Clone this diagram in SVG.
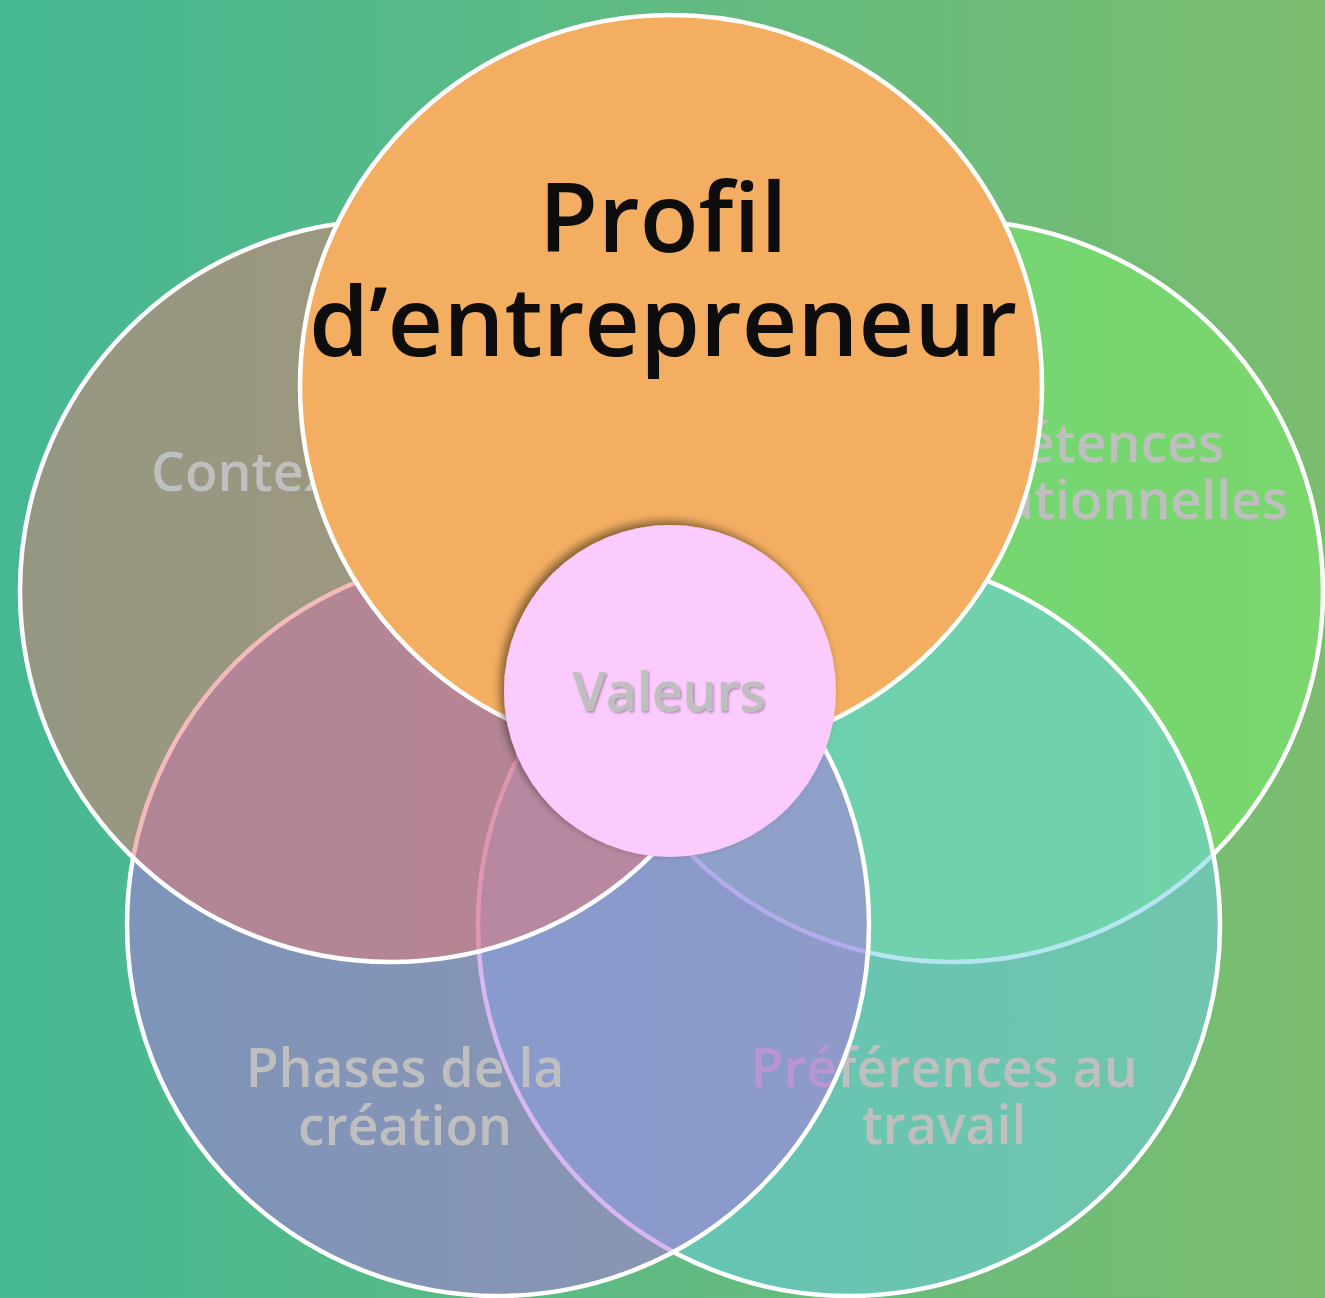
<svg xmlns="http://www.w3.org/2000/svg" width="1325" height="1298" viewBox="0 0 1325 1298">
  <defs>
    <linearGradient id="bg" x1="0" y1="0" x2="1" y2="0">
      <stop offset="0" stop-color="#45b894"/>
      <stop offset="1" stop-color="#7bbd6f"/>
    </linearGradient>
    <filter id="shadow" x="-20%" y="-20%" width="140%" height="140%">
      <feDropShadow dx="-4" dy="-4" stdDeviation="4" flood-color="#000" flood-opacity="0.45"/>
    </filter>
    <filter id="tshadow" x="-10%" y="-20%" width="120%" height="150%">
      <feDropShadow dx="1.5" dy="1.5" stdDeviation="1" flood-color="#000" flood-opacity="0.35"/>
    </filter>
    <style>
      .c { stroke: #ffffff; stroke-width: 4.5; }
      .lbl { font-family: "Open Sans", "Noto Sans", "Liberation Sans", sans-serif; font-weight: 600; font-size: 53.5px; fill: #bfbfbf; font-variant-ligatures: none; }
      .title { font-family: "Open Sans", "Noto Sans", "Liberation Sans", sans-serif; font-weight: 600; font-size: 96.5px; fill: #0d0d0d; font-variant-ligatures: none; }
    </style>
  </defs>
  <rect x="0" y="0" width="1325" height="1298" fill="url(#bg)"/>

  <g id="node-competences">
    <circle class="c" cx="952" cy="591" r="371" fill="rgb(124,240,108)" fill-opacity="0.5"/>
    <text class="lbl" x="1224" y="462" text-anchor="end">Compétences</text>
    <text class="lbl" x="1288" y="519" text-anchor="end">relationnelles</text>
  </g>

  <g id="node-preferences">
    <circle class="c" cx="849" cy="925" r="371" fill="rgb(106,205,229)" fill-opacity="0.5"/>
    <text class="lbl" x="944" y="1087" text-anchor="middle">Préférences au</text>
    <text class="lbl" x="944" y="1144" text-anchor="middle">travail</text>
  </g>

  <g id="node-phases">
    <circle class="c" cx="498" cy="925" r="371" fill="rgb(177,111,227)" fill-opacity="0.5"/>
    <text class="lbl" x="405" y="1087" text-anchor="middle">Phases de la</text>
    <text class="lbl" x="405" y="1145" text-anchor="middle">création</text>
  </g>

  <g id="node-contexte">
    <circle class="c" cx="391" cy="591" r="371" fill="rgb(229,117,116)" fill-opacity="0.5"/>
    <text class="lbl" x="151" y="491">Contexte</text>
  </g>

  <g id="node-profil">
    <circle class="c" cx="671" cy="386" r="371" fill="#f3ae62"/>
    <text class="title" x="663" y="252" text-anchor="middle">Profil</text>
    <text class="title" x="663" y="356" text-anchor="middle">d’entrepreneur</text>
  </g>

  <g id="node-valeurs">
    <circle cx="670" cy="691" r="166" fill="#fccbfd" filter="url(#shadow)"/>
    <text class="lbl" x="669" y="711" text-anchor="middle" filter="url(#tshadow)">Valeurs</text>
  </g>

  <g id="connectors"/>
</svg>
